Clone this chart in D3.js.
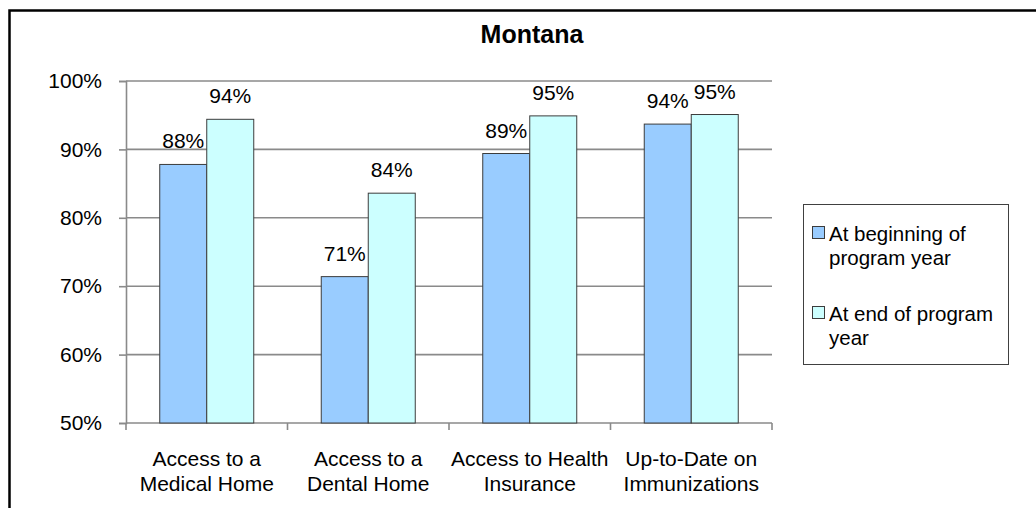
<!DOCTYPE html>
<html>
<head>
<meta charset="utf-8">
<script src="https://cdn.jsdelivr.net/npm/d3@7/dist/d3.min.js"></script>
<style>
  html, body { margin: 0; padding: 0; background: #fff; }
  svg { display: block; font-family: "Liberation Sans", Arial, sans-serif; }
</style>
</head>
<body>
<svg id="chart" width="1036" height="508"></svg>
<script>
const title = "Montana";
const categories = [
  ["Access to a", "Medical Home"],
  ["Access to a", "Dental Home"],
  ["Access to Health", "Insurance"],
  ["Up-to-Date on", "Immunizations"]
];
const seriesNames = [
  ["At beginning of", "program year"],
  ["At end of program", "year"]
];
const beginValues = [0.878, 0.714, 0.894, 0.937];
const endValues = [0.944, 0.836, 0.949, 0.951];
const yTicks = [0.5, 0.6, 0.7, 0.8, 0.9, 1.0];
const seriesColors = ["#99CCFF", "#CCFFFF"];

const svg = d3.select("#chart");
const catKeys = categories.map((c, i) => i);
const series = [beginValues, endValues];

// outer chart border (clipped at right and bottom)
svg.append("rect")
  .attr("x", 9.5).attr("y", 10.5)
  .attr("width", 1200).attr("height", 700)
  .attr("fill", "none").attr("stroke", "#000").attr("stroke-width", 2.5);

const x = d3.scaleBand().domain(catKeys).range([126, 772]).paddingInner(0).paddingOuter(0);
const xs = d3.scaleBand().domain([0, 1]).range([0, x.bandwidth()]).paddingInner(0).paddingOuter(0.718);
const y = d3.scaleLinear().domain([0.5, 1.0]).range([423, 81]);

const gridColor = "#8a8a8a";
const fs = 21;

// gridlines
svg.append("g").selectAll("line").data(yTicks.filter(t => t > 0.5)).join("line")
  .attr("x1", 126).attr("x2", 772)
  .attr("y1", d => y(d)).attr("y2", d => y(d))
  .attr("stroke", gridColor).attr("stroke-width", 1.6);

// y axis
const yAxis = d3.axisLeft(y).tickValues(yTicks).tickFormat(d3.format(".0%")).tickSize(7).tickPadding(17);
const gy = svg.append("g").attr("transform", "translate(126,0)").call(yAxis);
gy.select(".domain").attr("stroke", gridColor).attr("stroke-width", 1.6);
gy.selectAll(".tick line").attr("stroke", gridColor).attr("stroke-width", 1.6);
gy.selectAll(".tick text").attr("font-size", fs).attr("fill", "#000")
  .attr("font-family", "'Liberation Sans', Arial, sans-serif");

// x axis line + ticks at category boundaries
const boundaries = catKeys.map(k => x(k)).concat([x.range()[1]]);
svg.append("line").attr("x1", 126).attr("x2", 772).attr("y1", 423).attr("y2", 423)
  .attr("stroke", gridColor).attr("stroke-width", 1.6);
svg.append("g").selectAll("line").data(boundaries).join("line")
  .attr("x1", d => d).attr("x2", d => d).attr("y1", 423).attr("y2", 430)
  .attr("stroke", gridColor).attr("stroke-width", 1.6);

// category labels
const catLabels = svg.append("g").selectAll("text").data(categories).join("text")
  .attr("x", (d, i) => x(i) + x.bandwidth() / 2)
  .attr("y", 466)
  .attr("text-anchor", "middle").attr("font-size", fs).attr("fill", "#000");
catLabels.selectAll("tspan").data(d => d).join("tspan")
  .attr("x", function() { return this.parentNode.getAttribute("x"); })
  .attr("dy", (d, i) => i === 0 ? 0 : 24.5)
  .text(d => d);

// bars
series.forEach((vals, si) => {
  svg.append("g").selectAll("rect").data(vals).join("rect")
    .attr("x", (d, i) => x(i) + xs(si))
    .attr("y", d => y(d))
    .attr("width", xs.bandwidth())
    .attr("height", d => y(0.5) - y(d))
    .attr("fill", seriesColors[si])
    .attr("stroke", "#3c3c3c").attr("stroke-width", 1);
  svg.append("g").selectAll("text").data(vals).join("text")
    .attr("x", (d, i) => x(i) + xs(si) + xs.bandwidth() / 2)
    .attr("y", d => y(d) - 16)
    .attr("text-anchor", "middle").attr("font-size", fs).attr("fill", "#000")
    .text(d => d3.format(".0%")(d));
});

// title
svg.append("text").attr("x", 532).attr("y", 42.5)
  .attr("text-anchor", "middle").attr("font-size", 25).attr("font-weight", "bold")
  .attr("fill", "#000").text(title);

// legend
const lg = svg.append("g");
lg.append("rect").attr("x", 803.5).attr("y", 204.5).attr("width", 205).attr("height", 160)
  .attr("fill", "#fff").attr("stroke", "#404040").attr("stroke-width", 1);
const itemY = [241, 321];
seriesNames.forEach((nm, si) => {
  lg.append("rect").attr("x", 812.5).attr("y", itemY[si] - 14.5).attr("width", 12).attr("height", 12)
    .attr("fill", seriesColors[si]).attr("stroke", "#3c3c3c").attr("stroke-width", 1);
  const t = lg.append("text").attr("x", 829).attr("y", itemY[si]).attr("font-size", 20.5).attr("fill", "#000");
  nm.forEach((line, li) => {
    t.append("tspan").attr("x", 829).attr("dy", li === 0 ? 0 : 24).text(line);
  });
});
</script>
</body>
</html>
